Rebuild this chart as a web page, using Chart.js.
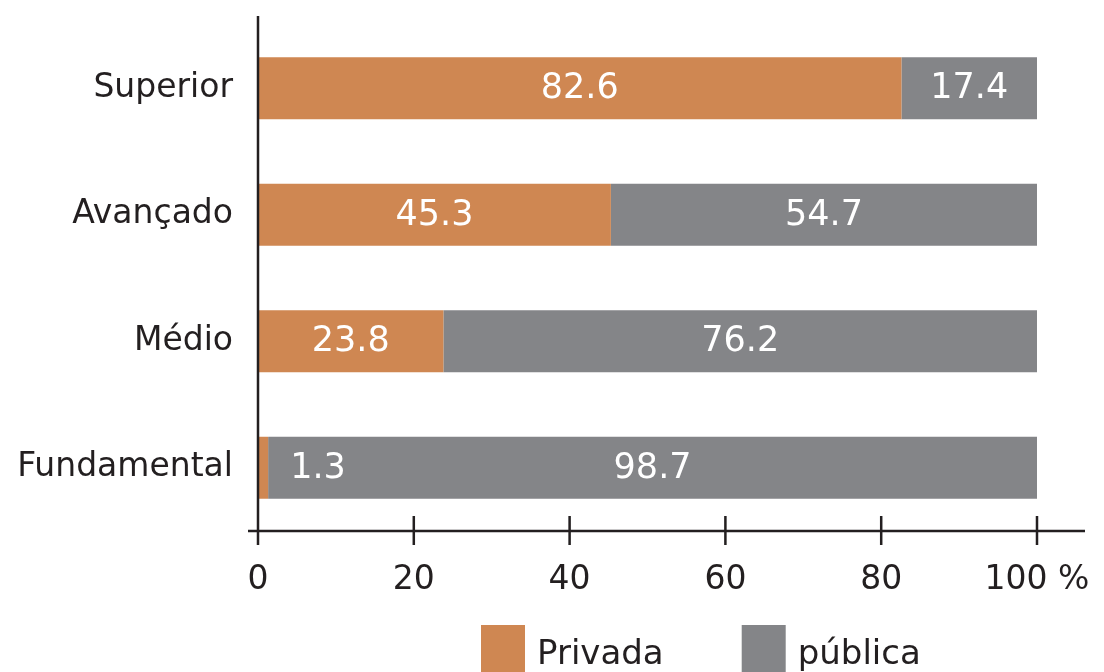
<!DOCTYPE html>
<html>
<head>
<meta charset="utf-8">
<script src="https://cdn.jsdelivr.net/npm/chart.js@4/dist/chart.umd.min.js"></script>
<style>
  html, body { margin: 0; padding: 0; background: #fff; }
  #wrap { width: 1104px; height: 672px; }
</style>
</head>
<body>
<div id="wrap"><canvas id="chart"></canvas></div>
<script>
// data
const categories = ['Superior', 'Avançado', 'Médio', 'Fundamental'];
const privada = [82.6, 45.3, 23.8, 1.3];
const publica = [17.4, 54.7, 76.2, 98.7];
const xTicks = [0, 20, 40, 60, 80, 100];
const seriesNames = ['Privada', 'pública'];

const ORANGE = '#cf8752';
const GREY = '#848588';
const INK = '#231f20';
const FONT = '"DejaVu Sans", sans-serif';

// axis lines, ticks crossing the axis, value labels in the bars, legend
const drawExtras = {
  id: 'drawExtras',
  afterDatasetsDraw(chart) {
    const ctx = chart.ctx;
    ctx.save();
    ctx.font = '35px ' + FONT;
    ctx.fillStyle = '#fff';
    ctx.textBaseline = 'middle';
    chart.data.datasets.forEach(function(ds, i) {
      const meta = chart.getDatasetMeta(i);
      meta.data.forEach(function(bar, j) {
        const start = Math.min(bar.base, bar.x), end = Math.max(bar.base, bar.x);
        const label = ds.data[j].toFixed(1);
        if (end - start < 60) {
          // too thin, put it just after the bar
          ctx.textAlign = 'left';
          ctx.fillText(label, end + 22, bar.y + 1);
        } else {
          ctx.textAlign = 'center';
          ctx.fillText(label, (start + end) / 2, bar.y + 1);
        }
      });
    });
    ctx.restore();
  },
  afterDraw(chart) {
    const ctx = chart.ctx, area = chart.chartArea, xs = chart.scales.x;
    ctx.save();
    ctx.strokeStyle = INK;
    ctx.lineWidth = 2.5;
    ctx.beginPath();
    ctx.moveTo(area.left - 10, area.bottom);
    ctx.lineTo(area.right + 48, area.bottom);
    ctx.moveTo(area.left, area.top - 9);
    ctx.lineTo(area.left, area.bottom + 14);
    xTicks.forEach(function(v) {
      const px = xs.getPixelForValue(v);
      ctx.moveTo(px, area.bottom - 15);
      ctx.lineTo(px, area.bottom + 14);
    });
    ctx.stroke();

    // legend
    ctx.font = '34px ' + FONT;
    ctx.textBaseline = 'middle';
    ctx.textAlign = 'left';
    let lx = 481;
    const ly = 625;
    chart.data.datasets.forEach(function(ds) {
      ctx.fillStyle = ds.backgroundColor;
      ctx.fillRect(lx, ly, 44, 60);
      ctx.fillStyle = INK;
      ctx.fillText(ds.label, lx + 56, ly + 30);
      lx += 56 + ctx.measureText(ds.label).width + 78;
    });
    ctx.restore();
  }
};

new Chart(document.getElementById('chart'), {
  type: 'bar',
  data: {
    labels: categories,
    datasets: [
      { label: seriesNames[0], data: privada, backgroundColor: ORANGE },
      { label: seriesNames[1], data: publica, backgroundColor: GREY }
    ]
  },
  options: {
    indexAxis: 'y',
    responsive: true,
    maintainAspectRatio: false,
    animation: false,
    layout: { padding: { top: 25, right: 67, bottom: 71, left: 0 } },
    datasets: { bar: { categoryPercentage: 1, barPercentage: 0.49 } },
    scales: {
      x: {
        stacked: true,
        min: 0,
        max: 100,
        grid: { display: false, drawTicks: false },
        border: { display: false },
        afterBuildTicks: function(s) { s.ticks = xTicks.map(function(v) { return { value: v }; }); },
        afterFit: function(s) { s.paddingLeft = 0; s.paddingRight = 0; s.height = 70; },
        ticks: {
          color: INK,
          font: { family: FONT, size: 33 },
          padding: 30,
          maxRotation: 0,
          callback: function(v) { return v === 100 ? '100 %' : String(v); }
        }
      },
      y: {
        stacked: true,
        grid: { display: false, drawTicks: false },
        border: { display: false },
        afterFit: function(s) { s.width = 258; s.paddingTop = 0; s.paddingBottom = 0; },
        ticks: {
          color: INK,
          font: { family: FONT, size: 33 },
          padding: 25
        }
      }
    },
    plugins: {
      legend: { display: false },
      tooltip: { enabled: false }
    }
  },
  plugins: [drawExtras]
});
</script>
</body>
</html>
